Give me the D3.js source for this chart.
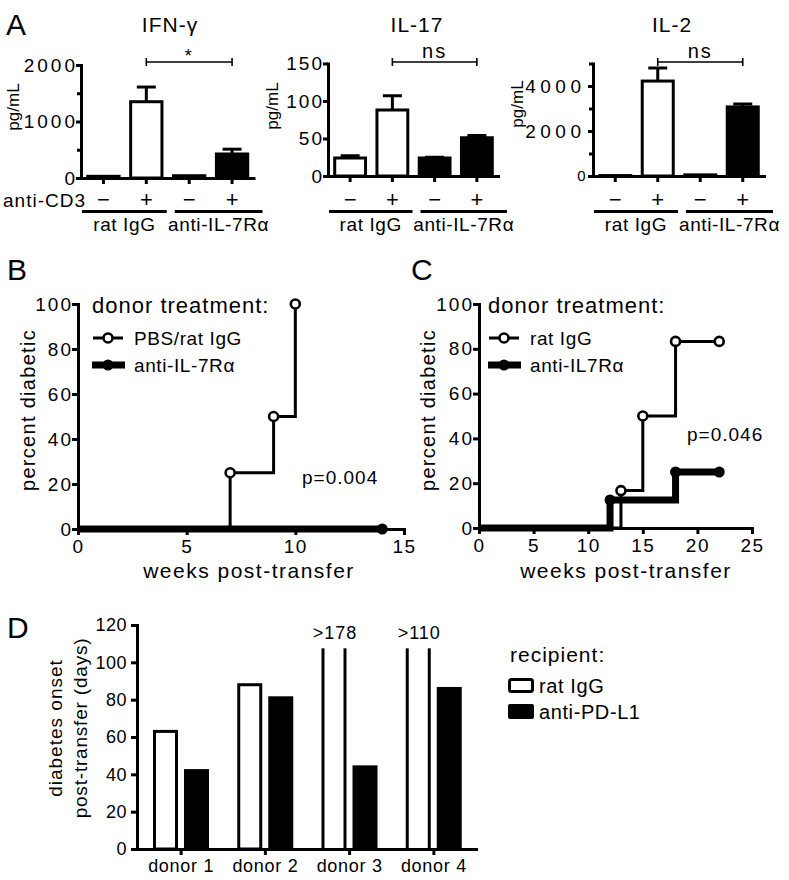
<!DOCTYPE html>
<html>
<head>
<meta charset="utf-8">
<script src="https://cdn.jsdelivr.net/npm/d3@7"></script>
<style>
body { margin: 0; background: #fff; }
svg { font-family: "Liberation Sans", Arial, sans-serif; }
</style>
</head>
<body>
<svg id="fig" width="789" height="880"></svg>
<script>
// Panel A: cytokines, 4 bars each (rat IgG -/+, anti-IL-7Ra -/+)
const cytokines = ['IFN-γ', 'IL-17', 'IL-2'];
const antiCD3 = ['−', '+', '−', '+'];
const donorGroups = ['rat IgG', 'anti-IL-7Rα'];
const barFills = ['white', 'white', 'black', 'black'];
const ifnMean = [30, 1350, 40, 425];
const ifnSem = [0, 260, 0, 85];
const il17Mean = [24, 88, 24, 51];
const il17Sem = [3, 19, 1, 3];
const il2Mean = [20, 4220, 50, 3070];
const il2Sem = [0, 580, 0, 130];
const sigLabels = ['*', 'ns', 'ns'];
const ifnTicks = [0, 1000, 2000];
const ifnMinor = [500, 1500];
const il17Ticks = [0, 50, 100, 150];
const il2Ticks = [0, 2000, 4000];
const il2Minor = [1000, 3000, 5000];

// Panel B / C: survival curves (weeks, percent diabetic)
const bSeries = ['PBS/rat IgG', 'anti-IL-7Rα'];
const bRatWeeks = [0, 7, 9, 10];
const bRatPct = [0, 25, 50, 100];
const bRatMarks = [7, 9, 10];
const bAntiWeeks = [0, 14];
const bAntiPct = [0, 0];
const bAntiMarks = [14];
const bPvalue = 'p=0.004';

const cSeries = ['rat IgG', 'anti-IL7Rα'];
const cRatWeeks = [0, 13, 15, 18, 22];
const cRatPct = [0, 16.7, 50, 83.3, 83.3];
const cRatMarks = [13, 15, 18, 22];
const cAntiWeeks = [0, 12, 18, 22];
const cAntiPct = [0, 12.5, 25, 25];
const cAntiMarks = [12, 18, 22];
const cPvalue = 'p=0.046';
const pctTicks = [0, 20, 40, 60, 80, 100];

// Panel D: diabetes onset per donor
const donors = ['donor 1', 'donor 2', 'donor 3', 'donor 4'];
const recipients = ['rat IgG', 'anti-PD-L1'];
const onsetRatIgG = [63, 88, 178, 110];
const onsetAntiPDL1 = [42, 81, 44, 86];
const ratIgGCensored = [false, false, true, true];
const censoredTop = 107.5;
const daysTicks = [0, 20, 40, 60, 80, 100, 120];

const svg = d3.select('#fig');
const fmt = d3.format('d');

function addText(g, x, y, str, size, opts = {}) {
    return g.append('text')
        .attr('x', x).attr('y', y)
        .attr('font-size', size)
        .attr('letter-spacing', opts.ls || 0)
        .attr('text-anchor', opts.anchor || 'start')
        .attr('fill', '#000')
        .text(str);
}

function addVText(g, x, y, str, size, ls) {
    return g.append('text')
        .attr('transform', `translate(${x},${y}) rotate(-90)`)
        .attr('font-size', size)
        .attr('letter-spacing', ls || 0)
        .attr('text-anchor', 'middle')
        .attr('dominant-baseline', 'central')
        .text(str);
}

function styleAxis(g, size, ls) {
    g.attr('font-family', null).attr('font-size', null);
    g.select('path.domain').attr('stroke-width', 3).attr('stroke-linecap', 'square');
    g.selectAll('.tick line').attr('stroke-width', 3);
    g.selectAll('.tick text').attr('font-size', size).attr('letter-spacing', ls).attr('fill', '#000');
}

// ---------- Panel A ----------
function drawCytokine(cfg) {
    const g = svg.append('g');
    const x = d3.scaleBand().domain(d3.range(cfg.mean.length))
        .range(cfg.xRange).paddingInner(0.27).paddingOuter(0.135);
    const y = d3.scaleLinear().domain([0, cfg.yMax]).range(cfg.yRange);
    const cx = i => x(i) + x.bandwidth() / 2;

    g.selectAll('rect.bar').data(cfg.mean).join('rect')
        .attr('class', 'bar')
        .attr('x', (d, i) => x(i))
        .attr('width', x.bandwidth())
        .attr('y', d => y(d))
        .attr('height', d => y(0) - y(d))
        .attr('fill', (d, i) => barFills[i])
        .attr('stroke', '#000')
        .attr('stroke-width', 3);

    cfg.mean.forEach((m, i) => {
        const s = cfg.sem[i];
        if (!s) return;
        g.append('line').attr('x1', cx(i)).attr('x2', cx(i))
            .attr('y1', y(m)).attr('y2', y(m + s))
            .attr('stroke', '#000').attr('stroke-width', 3);
        g.append('line').attr('x1', cx(i) - 9.5).attr('x2', cx(i) + 9.5)
            .attr('y1', y(m + s)).attr('y2', y(m + s))
            .attr('stroke', '#000').attr('stroke-width', 3);
    });

    const axisX = cfg.xRange[0] - 1;
    const ya = g.append('g').attr('transform', `translate(${axisX},0)`)
        .call(d3.axisLeft(y).tickValues(cfg.ticks).tickFormat(fmt)
            .tickSize(5).tickSizeOuter(0).tickPadding(cfg.pad));
    styleAxis(ya, 19, cfg.ls);
    if (cfg.small0) ya.selectAll('.tick text').filter(d => d === 0).attr('font-size', 15).attr('letter-spacing', 0);
    if (cfg.minor) {
        const ym = g.append('g').attr('transform', `translate(${axisX},0)`)
            .call(d3.axisLeft(y).tickValues(cfg.minor).tickSize(4).tickFormat(''));
        ym.select('path.domain').remove();
        ym.selectAll('.tick line').attr('stroke-width', 3);
    }

    const xa = g.append('g').attr('transform', `translate(0,${y(0)})`)
        .call(d3.axisBottom(x).tickSize(6).tickSizeOuter(0).tickFormat(''));
    styleAxis(xa, 19, 0);

    antiCD3.forEach((t, i) => addText(g, cx(i), 207, t, 22, { anchor: 'middle' }));

    // group underlines
    const mid = (cx(1) + cx(2)) / 2;
    const spans = [[axisX + 1, mid - 1], [mid + 7, cfg.xRange[1] + 9]];
    spans.forEach((s, k) => {
        g.append('line').attr('x1', s[0]).attr('x2', s[1]).attr('y1', 211.5).attr('y2', 211.5)
            .attr('stroke', '#000').attr('stroke-width', 3);
        addText(g, (s[0] + s[1]) / 2, 231, donorGroups[k], 19, { anchor: 'middle', ls: 0.6 });
    });

    // significance bracket
    const by = 62;
    g.append('line').attr('x1', cx(1)).attr('x2', cx(3)).attr('y1', by).attr('y2', by)
        .attr('stroke', '#000').attr('stroke-width', 1.6);
    [1, 3].forEach(i => g.append('line').attr('x1', cx(i)).attr('x2', cx(i))
        .attr('y1', by - 4).attr('y2', by + 4).attr('stroke', '#000').attr('stroke-width', 1.6));
    addText(g, (cx(1) + cx(3)) / 2, cfg.sig === '*' ? 62 : 58, cfg.sig, cfg.sig === '*' ? 18 : 20,
        { anchor: 'middle', ls: 2 });

    addText(g, cfg.titleX, 32, cfg.title, 21, { anchor: 'middle', ls: 1 });
    addVText(g, cfg.ylabX, cfg.ylabY, 'pg/mL', 17, 0);
    return g;
}

const gIfn = drawCytokine({ title: cytokines[0], mean: ifnMean, sem: ifnSem, sig: sigLabels[0],
    xRange: [82, 253.5], yRange: [178, 65], yMax: 2000, ticks: ifnTicks, minor: ifnMinor,
    pad: -2, ls: 3, titleX: 170, ylabX: 13, ylabY: 107 });
addText(gIfn, 86, 207, 'anti-CD3', 19, { anchor: 'end', ls: 1 });
drawCytokine({ title: cytokines[1], mean: il17Mean, sem: il17Sem, sig: sigLabels[1],
    xRange: [329, 498], yRange: [176, 63.5], yMax: 150, ticks: il17Ticks,
    pad: -1, ls: 2, titleX: 417, ylabX: 272, ylabY: 106 });
drawCytokine({ title: cytokines[2], mean: il2Mean, sem: il2Sem, sig: sigLabels[2],
    xRange: [594, 764], yRange: [176, 63.5], yMax: 5000, ticks: il2Ticks, minor: il2Minor,
    pad: 2.5, ls: 4.5, small0: true, titleX: 672, ylabX: 517, ylabY: 104 });

addText(svg, 6, 35, 'A', 30);

// ---------- Panels B and C ----------
function drawSurvival(cfg) {
    const g = svg.append('g');
    const x = d3.scaleLinear().domain([0, cfg.xMax]).range(cfg.xRange);
    const y = d3.scaleLinear().domain([0, 100]).range(cfg.yRange);

    const xa = g.append('g').attr('transform', `translate(0,${y(0)})`)
        .call(d3.axisBottom(x).ticks(cfg.xMax / 5).tickFormat(fmt)
            .tickSize(6).tickSizeOuter(0).tickPadding(4.5));
    styleAxis(xa, 19, 1.5);
    const ya = g.append('g').attr('transform', `translate(${x(0)},0)`)
        .call(d3.axisLeft(y).tickValues(pctTicks).tickFormat(fmt)
            .tickSize(6).tickSizeOuter(0).tickPadding(-1));
    styleAxis(ya, 19, 2);

    const line = d3.line().curve(d3.curveStepAfter).x(d => x(d[0])).y(d => y(d[1]));
    const anti = d3.zip(cfg.antiWeeks, cfg.antiPct);
    const rat = d3.zip(cfg.ratWeeks, cfg.ratPct);
    g.append('path').attr('d', line(anti)).attr('fill', 'none')
        .attr('stroke', '#000').attr('stroke-width', 7);
    g.append('path').attr('d', line(rat)).attr('fill', 'none')
        .attr('stroke', '#000').attr('stroke-width', 3);

    const valAt = (pts, w) => pts.filter(p => p[0] <= w).slice(-1)[0][1];
    g.selectAll('circle.rat').data(cfg.ratMarks).join('circle').attr('class', 'rat')
        .attr('cx', d => x(d)).attr('cy', d => y(valAt(rat, d))).attr('r', 4.5)
        .attr('fill', '#fff').attr('stroke', '#000').attr('stroke-width', 2.6);
    g.selectAll('circle.anti').data(cfg.antiMarks).join('circle').attr('class', 'anti')
        .attr('cx', d => x(d)).attr('cy', d => y(valAt(anti, d))).attr('r', 5.5)
        .attr('fill', '#000');

    // legend
    const lx = cfg.legendX;
    addText(g, lx, 313, 'donor treatment:', 22, { ls: 1 });
    g.append('line').attr('x1', lx + 1).attr('x2', lx + 31).attr('y1', 338).attr('y2', 338)
        .attr('stroke', '#000').attr('stroke-width', 3);
    g.append('circle').attr('cx', lx + 16).attr('cy', 338).attr('r', 4.5)
        .attr('fill', '#fff').attr('stroke', '#000').attr('stroke-width', 2.6);
    addText(g, lx + 42, 345, cfg.series[0], 19, { ls: 0.6 });
    g.append('line').attr('x1', lx).attr('x2', lx + 33).attr('y1', 365).attr('y2', 365)
        .attr('stroke', '#000').attr('stroke-width', 7);
    g.append('circle').attr('cx', lx + 16).attr('cy', 365).attr('r', 5.5).attr('fill', '#000');
    addText(g, lx + 42, 372, cfg.series[1], 19, { ls: 0.6 });

    addText(g, cfg.pX, cfg.pY, cfg.pvalue, 19, { ls: 1 });
    addText(g, cfg.xlabX, 578, 'weeks post-transfer', 21, { anchor: 'middle', ls: 1.5 });
    addVText(g, cfg.ylabX, 410, 'percent diabetic', 20, 1.3);
    addText(g, cfg.letterX, 280, cfg.letter, 30);
}

drawSurvival({ letter: 'B', letterX: 7, xMax: 15, xRange: [78, 404], yRange: [529, 304],
    ratWeeks: bRatWeeks, ratPct: bRatPct, ratMarks: bRatMarks,
    antiWeeks: bAntiWeeks, antiPct: bAntiPct, antiMarks: bAntiMarks,
    series: bSeries, pvalue: bPvalue, legendX: 92, pX: 302, pY: 484, xlabX: 249, ylabX: 28 });
drawSurvival({ letter: 'C', letterX: 411, xMax: 25, xRange: [479, 752], yRange: [528, 304],
    ratWeeks: cRatWeeks, ratPct: cRatPct, ratMarks: cRatMarks,
    antiWeeks: cAntiWeeks, antiPct: cAntiPct, antiMarks: cAntiMarks,
    series: cSeries, pvalue: cPvalue, legendX: 488, pX: 687, pY: 441, xlabX: 626, ylabX: 428 });

// ---------- Panel D ----------
(function drawOnset() {
    const g = svg.append('g');
    const x = d3.scaleBand().domain(donors).range([139, 476]);
    const sub = d3.scaleBand().domain(recipients).range([11, 73]);
    const y = d3.scaleLinear().domain([0, 120]).range([849, 625]);
    const barW = 22;

    const rows = donors.map((d, i) => ({ donor: d, values: [onsetRatIgG[i], onsetAntiPDL1[i]], cens: ratIgGCensored[i] }));
    rows.forEach(r => {
        r.values.forEach((v, k) => {
            const bx = x(r.donor) + sub(recipients[k]) + (sub.bandwidth() - barW) / 2;
            if (k === 0 && r.cens) {
                [bx, bx + barW].forEach(lx => g.append('line')
                    .attr('x1', lx).attr('x2', lx).attr('y1', y(0)).attr('y2', y(censoredTop))
                    .attr('stroke', '#000').attr('stroke-width', 3));
                addText(g, bx + barW / 2 + 1, 639, '>' + v, 18, { anchor: 'middle', ls: 1 });
            } else {
                g.append('rect').attr('x', bx).attr('width', barW)
                    .attr('y', y(v)).attr('height', y(0) - y(v))
                    .attr('fill', k === 0 ? '#fff' : '#000')
                    .attr('stroke', '#000').attr('stroke-width', 3);
            }
        });
    });

    const xa = g.append('g').attr('transform', `translate(0,${y(0)})`)
        .call(d3.axisBottom(x).tickSize(6).tickSizeOuter(0).tickPadding(4));
    styleAxis(xa, 18, 0.7);
    const ya = g.append('g').attr('transform', `translate(137,0)`)
        .call(d3.axisLeft(y).tickValues(daysTicks).tickFormat(fmt)
            .tickSize(6).tickSizeOuter(0).tickPadding(4));
    styleAxis(ya, 18, 0.5);

    addVText(g, 55, 728, 'diabetes onset', 19, 1);
    addVText(g, 80, 728, 'post-transfer (days)', 19, 0.8);
    addText(g, 7, 638, 'D', 30);

    // legend
    addText(g, 510, 662, 'recipient:', 21, { ls: 1 });
    g.append('rect').attr('x', 509.5).attr('y', 679.5).attr('width', 23).attr('height', 12)
        .attr('rx', 2).attr('fill', '#fff').attr('stroke', '#000').attr('stroke-width', 3);
    addText(g, 539, 693, recipients[0], 20, { ls: 0.6 });
    g.append('rect').attr('x', 508).attr('y', 704).attr('width', 26).attr('height', 15)
        .attr('rx', 2).attr('fill', '#000');
    addText(g, 539, 719, recipients[1], 20, { ls: 0.6 });
})();
</script>
</body>
</html>
